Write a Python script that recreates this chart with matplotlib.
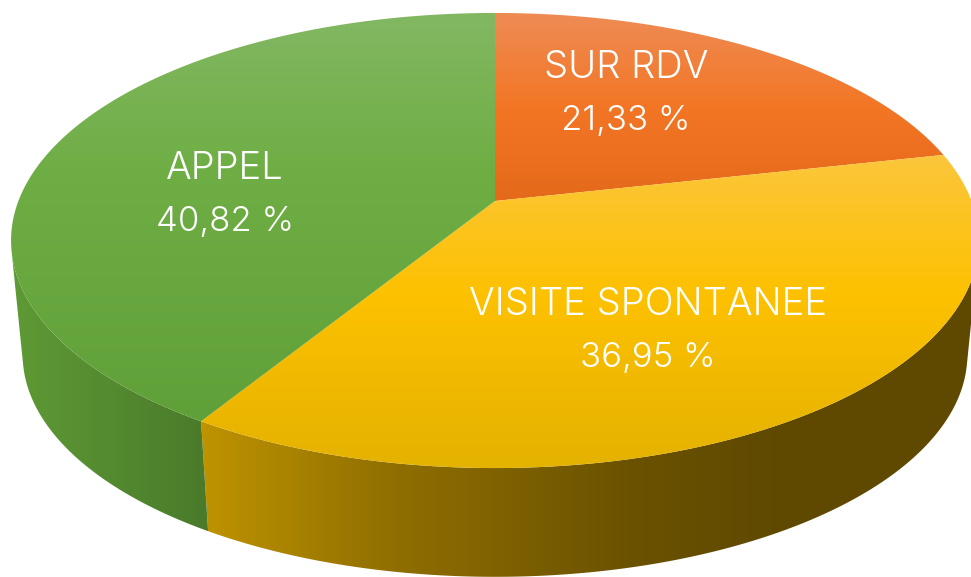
import numpy as np
import matplotlib
matplotlib.use("Agg")
import matplotlib.pyplot as plt
from matplotlib.colors import LinearSegmentedColormap
from matplotlib.patches import Polygon

# ---- data ----
categories = ["SUR RDV", "VISITE SPONTANEE", "APPEL"]
values = [21.33, 36.95, 40.82]
value_labels = ["21,33 %", "36,95 %", "40,82 %"]

# ---- styles ----
top_colors = [
    [(0, "#EE8C55"), (0.5, "#F37625"), (1, "#E4691A")],
    [(0, "#FBC63C"), (0.45, "#FDC100"), (1, "#E4B200")],
    [(0, "#83B863"), (0.38, "#6FAE45"), (1, "#60A038")],
]
wall_colors = [
    [(0, "#A8521A"), (1, "#A8521A")],
    [(0, "#BE9300"), (0.25, "#8F6E00"), (0.55, "#6B5200"), (0.75, "#5F4900"), (1, "#5F4900")],
    [(0, "#5E9A35"), (0.5, "#548A30"), (1, "#4A7A2A")],
]
label_xy = [(626, 78), (648, 315), (225, 179)]
LINE_GAP = 52
W, H = 971, 577
CX, A, B0, CY0, C = 495.0, 476.6, 201.0, 185.8, -0.1736
WALL_SCALE, VANISH_Y = 0.976, 5000.0
FONT = "Inter"
FS_NAME, FS_VALUE = 27.5, 25

fig = plt.figure(figsize=(W / 100, H / 100), dpi=100)
ax = fig.add_axes([0, 0, 1, 1])
ax.set_xlim(0, W)
ax.set_ylim(H, 0)
ax.axis("off")


def top_pts(theta):
    u, v = np.sin(theta), -np.cos(theta)
    d = 1 + C * v
    return np.column_stack([CX + A * u / d, (CY0 * v + B0) / d])


def bottom_pts(theta):
    p = top_pts(theta)
    return np.column_stack([CX + WALL_SCALE * (p[:, 0] - CX),
                            VANISH_Y - WALL_SCALE * (VANISH_Y - p[:, 1])])


def gradient_fill(poly, colors, vertical, z):
    cmap = LinearSegmentedColormap.from_list("g", colors, N=256)
    x0, x1 = poly[:, 0].min(), poly[:, 0].max()
    y0, y1 = poly[:, 1].min(), poly[:, 1].max()
    g = np.linspace(0, 1, 256)
    img = g[:, None] if vertical else g[None, :]
    im = ax.imshow(img, cmap=cmap, extent=(x0, x1, y1, y0), aspect="auto",
                   origin="upper", zorder=z, interpolation="bilinear", vmin=0, vmax=1)
    patch = Polygon(poly, closed=True, transform=ax.transData, fc="none", ec="none")
    ax.add_patch(patch)
    im.set_clip_path(patch)


fractions = np.array(values) / np.sum(values)
edges = np.concatenate([[0], np.cumsum(fractions)]) * 2 * np.pi
apex = np.array([[CX, B0]])

# silhouette angles: tangents of the rim seen from the walls' vanishing point
grid = np.linspace(0, 2 * np.pi, 7201)
rim = top_pts(grid)
slope = (rim[:, 0] - CX) / (VANISH_Y - rim[:, 1])
theta_right = grid[np.argmax(slope)]
theta_left = grid[np.argmin(slope)]

# walls: only the front-facing parts of the slices
for i in [1, 2]:
    start = max(edges[i], theta_right)
    stop = min(edges[i + 1], theta_left)
    th = np.linspace(start, stop, 300)
    poly = np.vstack([top_pts(th), bottom_pts(th)[::-1]])
    gradient_fill(poly, wall_colors[i], False, 1)

# top faces
for i in range(3):
    th = np.linspace(edges[i], edges[i + 1], 300)
    poly = np.vstack([apex, top_pts(th)])
    gradient_fill(poly, top_colors[i], True, 2)

# labels
for (x, y), c, v in zip(label_xy, categories, value_labels):
    ax.text(x, y, c, color="white", fontsize=FS_NAME, family=FONT, fontweight=300,
            ha="center", va="baseline", zorder=5)
    ax.text(x, y + LINE_GAP, v, color="white", fontsize=FS_VALUE, family=FONT, fontweight=300,
            ha="center", va="baseline", zorder=5)

ax.set_xlim(0, W)
ax.set_ylim(H, 0)
fig.savefig("out.png", dpi=100)
